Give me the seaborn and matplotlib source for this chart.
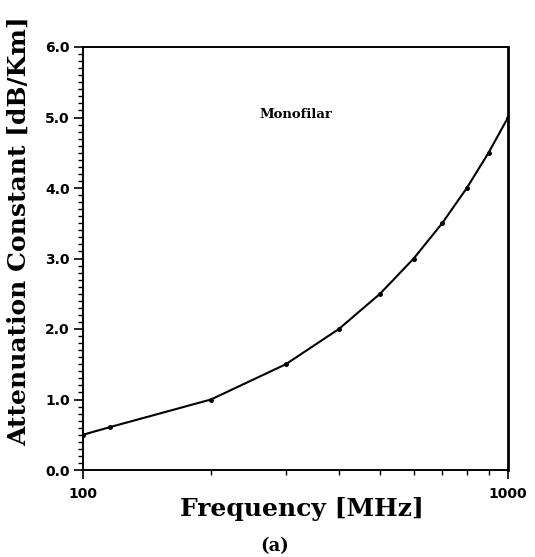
import matplotlib
matplotlib.use("Agg")
import matplotlib.pyplot as plt
import seaborn as sns
import pandas as pd
from matplotlib.ticker import FixedLocator, NullFormatter, MultipleLocator, FormatStrFormatter

# Data
frequency_mhz = [100, 116, 200, 300, 400, 500, 600, 700, 800, 900, 1000]
attenuation_db_km = [0.50, 0.61, 1.00, 1.50, 2.00, 2.50, 3.00, 3.50, 4.00, 4.50, 5.00]
x_major_ticks = [100, 1000]
x_major_labels = ["100", "1000"]
x_minor_ticks = [200, 300, 400, 500, 600, 700, 800, 900]
y_ticks = [0.0, 1.0, 2.0, 3.0, 4.0, 5.0, 6.0]

sns.set_theme(style="white")
plt.rcParams['font.family'] = ['DejaVu Sans']

df = pd.DataFrame({"freq": frequency_mhz, "att": attenuation_db_km})

fig = plt.figure(figsize=(5.35, 5.57), dpi=100)
ax = fig.add_axes([83/535, 1 - 470/557, 425/535, 423/557])

sns.lineplot(data=df, x="freq", y="att", ax=ax, color="black", linewidth=1.5,
             marker="o", markersize=3.6, markeredgewidth=0, markerfacecolor="black",
             sort=True, legend=False)

ax.set_xscale("log")
ax.set_xlim(100, 1000)
ax.set_ylim(0, 6)

ax.xaxis.set_major_locator(FixedLocator(x_major_ticks))
ax.set_xticklabels(x_major_labels)
ax.xaxis.set_minor_locator(FixedLocator(x_minor_ticks))
ax.xaxis.set_minor_formatter(NullFormatter())

ax.yaxis.set_major_locator(FixedLocator(y_ticks))
ax.yaxis.set_major_formatter(FormatStrFormatter("%.1f"))
ax.yaxis.set_minor_locator(MultipleLocator(0.1))

ax.tick_params(axis="both", which="major", direction="out", length=6.5, width=1.2,
               color="black", labelsize=10, pad=3)
ax.tick_params(axis="x", which="major", pad=6)
ax.tick_params(axis="both", which="minor", direction="out", length=3.6, width=1.0,
               color="black")
ax.tick_params(bottom=True, left=True, which="both")
for lab in ax.get_xticklabels() + ax.get_yticklabels():
    lab.set_fontweight("bold")
    lab.set_color("black")

for side in ["left", "bottom", "top", "right"]:
    ax.spines[side].set_visible(True)
    ax.spines[side].set_color("black")
    ax.spines[side].set_linewidth(1.4)
ax.spines["right"].set_linewidth(2.0)

ax.set_xlabel("Frequency [MHz]", fontfamily="DejaVu Serif", fontweight="bold",
              fontsize=18, color="black", va="top")
ax.xaxis.set_label_coords(0.515, -0.064)
ax.set_ylabel("Attenuation Constant [dB/Km]", fontfamily="DejaVu Serif",
              fontweight="bold", fontsize=18, color="black", va="center")
ax.yaxis.set_label_coords(-0.152, 0.565)

ax.text(0.501, 0.84, "Monofilar", transform=ax.transAxes, ha="center", va="center",
        fontfamily="DejaVu Serif", fontweight="bold", fontsize=9.5, color="black")

fig.text(0.514, 1 - 546/557, "(a)", ha="center", va="center",
         fontfamily="DejaVu Serif", fontweight="bold", fontsize=13, color="black")

fig.savefig("out.png", dpi=100, facecolor="white")
